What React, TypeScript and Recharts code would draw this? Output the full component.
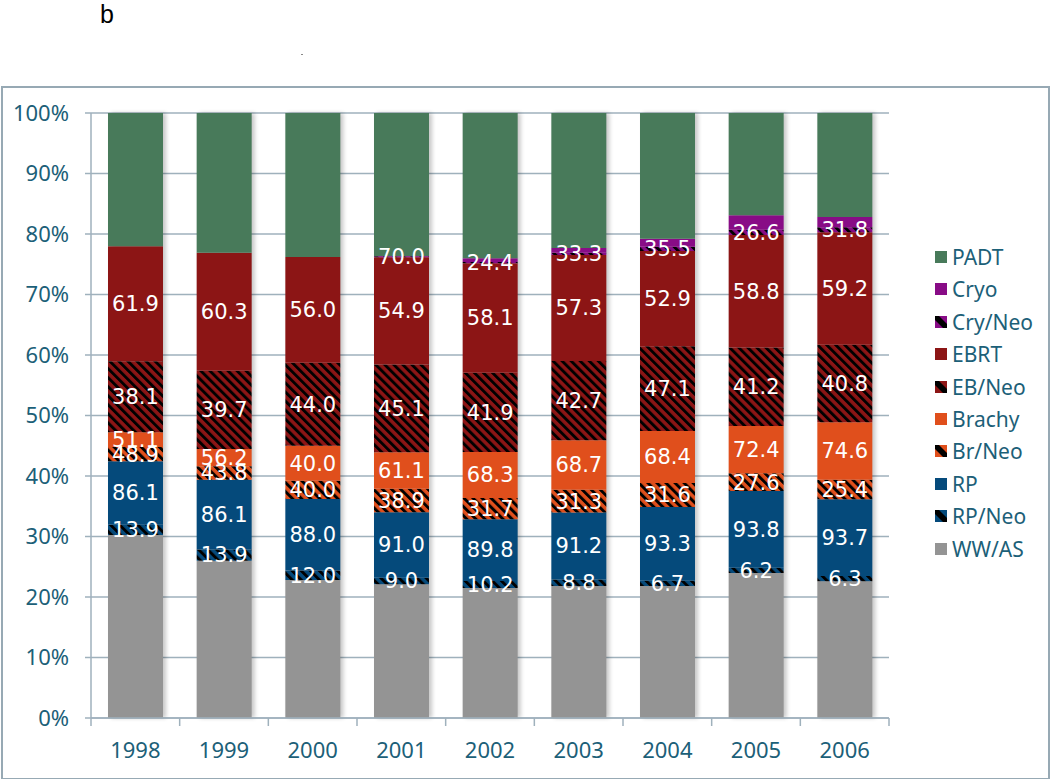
import React from "react";
import { BarChart, Bar, XAxis, YAxis, CartesianGrid, LabelList } from "recharts";

// percent of all patients per year (bar segment heights), bottom to top
const years = ["1998", "1999", "2000", "2001", "2002", "2003", "2004", "2005", "2006"];
const wwas = [30.2, 26.0, 22.8, 22.1, 21.5, 21.8, 21.8, 24.0, 22.6];
const rpNeo = [1.7, 1.86, 1.6, 1.07, 1.16, 1.07, 0.88, 0.84, 0.85];
const rp = [10.5, 11.5, 11.8, 10.8, 10.2, 11.1, 12.2, 12.7, 12.7];
const brNeo = [2.35, 2.25, 3.0, 3.86, 3.5, 3.72, 3.97, 2.96, 3.23];
const brachy = [2.45, 2.85, 5.8, 6.05, 7.6, 8.2, 8.6, 7.8, 9.5];
const ebNeo = [11.7, 12.9, 13.7, 14.5, 13.1, 13.1, 14.0, 13.0, 12.8];
const ebrt = [19.0, 19.5, 17.5, 17.7, 18.1, 17.5, 15.75, 18.6, 18.6];
const cryNeo = [0, 0, 0, 0.14, 0.2, 0.39, 0.7, 0.88, 0.8];
const cryo = [0, 0, 0, 0.06, 0.63, 0.77, 1.3, 2.42, 1.7];
const padt = [22.0, 23.1, 23.8, 23.6, 24.0, 22.3, 20.8, 16.9, 17.2];

// labels printed in the segments (share within each treatment)
const rpNeoLbl = [13.9, 13.9, 12.0, 9.0, 10.2, 8.8, 6.7, 6.2, 6.3];
const rpLbl = [86.1, 86.1, 88.0, 91.0, 89.8, 91.2, 93.3, 93.8, 93.7];
const brNeoLbl = [48.9, 43.8, 40.0, 38.9, 31.7, 31.3, 31.6, 27.6, 25.4];
const brachyLbl = [51.1, 56.2, 40.0, 61.1, 68.3, 68.7, 68.4, 72.4, 74.6];
const ebNeoLbl = [38.1, 39.7, 44.0, 45.1, 41.9, 42.7, 47.1, 41.2, 40.8];
const ebrtLbl = [61.9, 60.3, 56.0, 54.9, 58.1, 57.3, 52.9, 58.8, 59.2];
const cryNeoLbl = [null, null, null, 70.0, 24.4, 33.3, 35.5, 26.6, 31.8];

const yTicks = [0, 0.1, 0.2, 0.3, 0.4, 0.5, 0.6, 0.7, 0.8, 0.9, 1];

const TEAL = "#1c6078";
const AXIS = "#9fb1bc";
const AXIS_FONT = "'Noto Sans', 'Liberation Sans', sans-serif";
const LABEL_FONT = "'DejaVu Sans', sans-serif";

const series = [
  { key: "wwas", name: "WW/AS", color: "#949494", hatch: false, values: wwas, labels: null },
  { key: "rpNeo", name: "RP/Neo", color: "#054a7b", hatch: true, values: rpNeo, labels: rpNeoLbl },
  { key: "rp", name: "RP", color: "#054a7b", hatch: false, values: rp, labels: rpLbl },
  { key: "brNeo", name: "Br/Neo", color: "#e04f1c", hatch: true, values: brNeo, labels: brNeoLbl },
  { key: "brachy", name: "Brachy", color: "#e04f1c", hatch: false, values: brachy, labels: brachyLbl },
  { key: "ebNeo", name: "EB/Neo", color: "#8c1515", hatch: true, values: ebNeo, labels: ebNeoLbl },
  { key: "ebrt", name: "EBRT", color: "#8c1515", hatch: false, values: ebrt, labels: ebrtLbl },
  { key: "cryNeo", name: "Cry/Neo", color: "#880c86", hatch: true, values: cryNeo, labels: cryNeoLbl },
  { key: "cryo", name: "Cryo", color: "#880c86", hatch: false, values: cryo, labels: null },
  { key: "padt", name: "PADT", color: "#487a5a", hatch: false, values: padt, labels: null },
];

const data = years.map((year, i) => {
  const row: any = { year };
  series.forEach((s) => {
    row[s.key] = s.values[i];
    if (s.labels) row[s.key + "Lbl"] = s.labels[i];
  });
  return row;
});

const BAND = (889 - 91) / years.length;

function YearTick(props: any) {
  const { x, y, payload, index } = props;
  return (
    <g>
      <line x1={x - BAND / 2} x2={x - BAND / 2} y1={y} y2={y + 8} stroke={AXIS} strokeWidth={1.5} />
      {index === years.length - 1 && (
        <line x1={x + BAND / 2} x2={x + BAND / 2} y1={y} y2={y + 8} stroke={AXIS} strokeWidth={1.5} />
      )}
      <text
        x={x}
        y={y + 31}
        textAnchor="middle"
        dominantBaseline="central"
        fill={TEAL}
        fontSize={22}
        fontFamily={AXIS_FONT}
      >
        {payload.value}
      </text>
    </g>
  );
}

function BarShadow(props: any) {
  const { x, y, width, height } = props;
  return (
    <rect x={x + 3} y={y} width={width} height={height} fill="#000" opacity={0.22} filter="url(#barBlur)" />
  );
}

function Swatch({ color, hatch }: { color: string; hatch: boolean }) {
  return (
    <svg width={12} height={12} style={{ display: "block" }}>
      <rect width={12} height={12} fill={color} />
      {hatch && <polygon points="0,0 4,0 12,8 12,12 8,12 0,4" fill="#000" />}
    </svg>
  );
}

export default function App() {
  const legendItems = [...series].reverse();
  return (
    <div
      style={{
        position: "absolute",
        left: 0,
        top: 0,
        width: 1050,
        height: 779,
        background: "#fff",
        overflow: "hidden",
      }}
    >
      <div
        style={{
          position: "absolute",
          left: 100,
          top: 2.5,
          fontSize: 25,
          lineHeight: "23px",
          fontFamily: "'Liberation Sans', Arial, sans-serif",
          color: "#000",
        }}
      >
        b
      </div>
      <div style={{ position: "absolute", left: 301, top: 54, width: 2, height: 1, background: "#888" }} />
      <div
        style={{
          position: "absolute",
          left: 1,
          top: 86,
          width: 1045,
          height: 690,
          border: "2px solid #97a9b4",
        }}
      />
      <div style={{ position: "absolute", left: 0, top: 0 }}>
        <BarChart
          width={1050}
          height={779}
          data={data}
          stackOffset="expand"
          margin={{ top: 113, right: 161, bottom: 21, left: 0 }}
        >
          <defs>
            <filter id="barBlur" x="-20%" y="-5%" width="140%" height="110%">
              <feGaussianBlur stdDeviation={2} />
            </filter>
            {series
              .filter((s) => s.hatch)
              .map((s) => (
                <pattern
                  key={s.key}
                  id={"hatch-" + s.key}
                  patternUnits="userSpaceOnUse"
                  width={6.4}
                  height={6.4}
                  patternTransform="rotate(-45)"
                >
                  <rect width={6.4} height={6.4} fill={s.color} />
                  <rect width={2.9} height={6.4} fill="#000" />
                </pattern>
              ))}
          </defs>
          <CartesianGrid vertical={false} stroke={AXIS} strokeWidth={1.5} />
          <XAxis
            dataKey="year"
            height={40}
            stroke={AXIS}
            strokeWidth={1.5}
            tickLine={false}
            tickSize={0}
            tickMargin={0}
            interval={0}
            tick={<YearTick />}
          />
          <YAxis
            width={91}
            domain={[0, 1]}
            ticks={yTicks}
            interval={0}
            stroke={AXIS}
            strokeWidth={1.5}
            tickSize={6}
            tickMargin={16}
            tickFormatter={(v: number) => `${Math.round(v * 100)}%`}
            tick={{ fill: TEAL, fontSize: 22, fontFamily: AXIS_FONT }}
          />
          {series.map((s, i) => (
            <Bar
              key={s.key}
              dataKey={s.key}
              name={s.name}
              stackId="all"
              barSize={55}
              fill={s.hatch ? `url(#hatch-${s.key})` : s.color}
              isAnimationActive={false}
              background={i === 0 ? <BarShadow /> : undefined}
            >
              {s.labels && (
                <LabelList
                  dataKey={s.key + "Lbl"}
                  position="center"
                  fill="#fff"
                  fontSize={21}
                  fontFamily={LABEL_FONT}
                  formatter={(v: any) => (v == null ? "" : Number(v).toFixed(1))}
                />
              )}
            </Bar>
          ))}
        </BarChart>
      </div>
      <div style={{ position: "absolute", left: 935, top: 0 }}>
        {legendItems.map((s, i) => (
          <div
            key={s.key}
            style={{
              position: "absolute",
              left: 0,
              top: 257 + i * 32.4 - 14,
              height: 28,
              display: "flex",
              alignItems: "center",
              whiteSpace: "nowrap",
            }}
          >
            <Swatch color={s.color} hatch={s.hatch} />
            <span
              style={{
                marginLeft: 5,
                fontSize: 21,
                fontFamily: AXIS_FONT,
                color: TEAL,
              }}
            >
              {s.name}
            </span>
          </div>
        ))}
      </div>
    </div>
  );
}
